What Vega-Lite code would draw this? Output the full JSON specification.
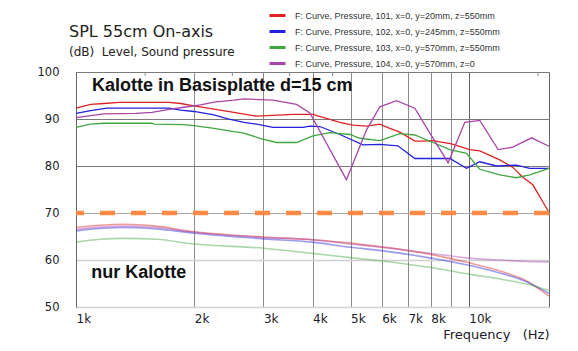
{
  "$schema": "https://vega.github.io/schema/vega-lite/v6.json",
  "width": 473,
  "height": 235,
  "autosize": {"type": "none"},
  "padding": {"left": 76, "top": 72, "right": 29, "bottom": 44},
  "background": "white",
  "config": {"view": {"stroke": null}, "font": "DejaVu Sans"},
  "title": {
    "text": "SPL 55cm On-axis",
    "subtitle": "(dB)\u00a0 Level, Sound pressure",
    "anchor": "start",
    "frame": "group",
    "dx": -7,
    "font": "DejaVu Sans",
    "fontSize": 16,
    "fontWeight": "normal",
    "color": "#222222",
    "subtitleFont": "DejaVu Sans",
    "subtitleFontSize": 12,
    "subtitleColor": "#222222",
    "subtitlePadding": 7,
    "offset": -52
  },
  "datasets": {
    "curves": [
      {"s": "101", "g": "b", "f": 1000, "db": 92.3},
      {"s": "101", "g": "b", "f": 1090, "db": 93.1},
      {"s": "101", "g": "b", "f": 1178, "db": 93.3},
      {"s": "101", "g": "b", "f": 1286, "db": 93.55},
      {"s": "101", "g": "b", "f": 1724, "db": 93.55},
      {"s": "101", "g": "b", "f": 1847, "db": 93.3},
      {"s": "101", "g": "b", "f": 1997, "db": 92.8},
      {"s": "101", "g": "b", "f": 2245, "db": 92.1},
      {"s": "101", "g": "b", "f": 2614, "db": 91.2},
      {"s": "101", "g": "b", "f": 2883, "db": 90.6},
      {"s": "101", "g": "b", "f": 3565, "db": 91.0},
      {"s": "101", "g": "b", "f": 4009, "db": 91.0},
      {"s": "101", "g": "b", "f": 4696, "db": 89.3},
      {"s": "101", "g": "b", "f": 5068, "db": 88.7},
      {"s": "101", "g": "b", "f": 5492, "db": 88.5},
      {"s": "101", "g": "b", "f": 5936, "db": 88.9},
      {"s": "101", "g": "b", "f": 6295, "db": 88.0},
      {"s": "101", "g": "b", "f": 6674, "db": 87.2},
      {"s": "101", "g": "b", "f": 7288, "db": 85.3},
      {"s": "101", "g": "b", "f": 7638, "db": 85.3},
      {"s": "101", "g": "b", "f": 8099, "db": 85.4},
      {"s": "101", "g": "b", "f": 9036, "db": 84.7},
      {"s": "101", "g": "b", "f": 10058, "db": 83.5},
      {"s": "101", "g": "b", "f": 10666, "db": 83.2},
      {"s": "101", "g": "b", "f": 11993, "db": 81.3},
      {"s": "101", "g": "b", "f": 12942, "db": 79.7},
      {"s": "101", "g": "b", "f": 13724, "db": 77.6},
      {"s": "101", "g": "b", "f": 14552, "db": 76.0},
      {"s": "101", "g": "b", "f": 15430, "db": 72.4},
      {"s": "101", "g": "b", "f": 16000, "db": 70.1},
      {"s": "102", "g": "b", "f": 1000, "db": 91.2},
      {"s": "102", "g": "b", "f": 1090, "db": 91.8},
      {"s": "102", "g": "b", "f": 1199, "db": 92.3},
      {"s": "102", "g": "b", "f": 1724, "db": 92.3},
      {"s": "102", "g": "b", "f": 1847, "db": 91.9},
      {"s": "102", "g": "b", "f": 1997, "db": 91.6},
      {"s": "102", "g": "b", "f": 2245, "db": 90.9},
      {"s": "102", "g": "b", "f": 2423, "db": 90.1},
      {"s": "102", "g": "b", "f": 2676, "db": 89.3},
      {"s": "102", "g": "b", "f": 2883, "db": 88.9},
      {"s": "102", "g": "b", "f": 3172, "db": 88.2},
      {"s": "102", "g": "b", "f": 3781, "db": 88.2},
      {"s": "102", "g": "b", "f": 3939, "db": 88.5},
      {"s": "102", "g": "b", "f": 4177, "db": 88.4},
      {"s": "102", "g": "b", "f": 4696, "db": 86.7},
      {"s": "102", "g": "b", "f": 5375, "db": 84.5},
      {"s": "102", "g": "b", "f": 5936, "db": 84.6},
      {"s": "102", "g": "b", "f": 6596, "db": 84.3},
      {"s": "102", "g": "b", "f": 7288, "db": 81.6},
      {"s": "102", "g": "b", "f": 8947, "db": 81.6},
      {"s": "102", "g": "b", "f": 9865, "db": 79.5},
      {"s": "102", "g": "b", "f": 10666, "db": 80.9},
      {"s": "102", "g": "b", "f": 11764, "db": 80.0},
      {"s": "102", "g": "b", "f": 13225, "db": 80.2},
      {"s": "102", "g": "b", "f": 14299, "db": 79.5},
      {"s": "102", "g": "b", "f": 16000, "db": 79.5},
      {"s": "103", "g": "b", "f": 1000, "db": 88.2},
      {"s": "103", "g": "b", "f": 1090, "db": 88.9},
      {"s": "103", "g": "b", "f": 1178, "db": 89.1},
      {"s": "103", "g": "b", "f": 1561, "db": 89.1},
      {"s": "103", "g": "b", "f": 1580, "db": 88.9},
      {"s": "103", "g": "b", "f": 1883, "db": 88.8},
      {"s": "103", "g": "b", "f": 1997, "db": 88.6},
      {"s": "103", "g": "b", "f": 2245, "db": 88.0},
      {"s": "103", "g": "b", "f": 2523, "db": 87.3},
      {"s": "103", "g": "b", "f": 2676, "db": 87.0},
      {"s": "103", "g": "b", "f": 2939, "db": 85.9},
      {"s": "103", "g": "b", "f": 3241, "db": 85.0},
      {"s": "103", "g": "b", "f": 3643, "db": 85.0},
      {"s": "103", "g": "b", "f": 4009, "db": 86.4},
      {"s": "103", "g": "b", "f": 4430, "db": 87.1},
      {"s": "103", "g": "b", "f": 4980, "db": 86.7},
      {"s": "103", "g": "b", "f": 5281, "db": 85.9},
      {"s": "103", "g": "b", "f": 5936, "db": 85.4},
      {"s": "103", "g": "b", "f": 6674, "db": 86.9},
      {"s": "103", "g": "b", "f": 7288, "db": 86.6},
      {"s": "103", "g": "b", "f": 8099, "db": 85.0},
      {"s": "103", "g": "b", "f": 8947, "db": 83.5},
      {"s": "103", "g": "b", "f": 9865, "db": 82.7},
      {"s": "103", "g": "b", "f": 10666, "db": 79.3},
      {"s": "103", "g": "b", "f": 11993, "db": 78.1},
      {"s": "103", "g": "b", "f": 13225, "db": 77.5},
      {"s": "103", "g": "b", "f": 14299, "db": 78.1},
      {"s": "103", "g": "b", "f": 16000, "db": 79.5},
      {"s": "104", "g": "b", "f": 1000, "db": 90.3},
      {"s": "104", "g": "b", "f": 1090, "db": 90.7},
      {"s": "104", "g": "b", "f": 1178, "db": 91.1},
      {"s": "104", "g": "b", "f": 1419, "db": 91.2},
      {"s": "104", "g": "b", "f": 1561, "db": 91.4},
      {"s": "104", "g": "b", "f": 1742, "db": 92.1},
      {"s": "104", "g": "b", "f": 1883, "db": 92.5},
      {"s": "104", "g": "b", "f": 2076, "db": 93.0},
      {"s": "104", "g": "b", "f": 2245, "db": 93.6},
      {"s": "104", "g": "b", "f": 2523, "db": 94.0},
      {"s": "104", "g": "b", "f": 2676, "db": 94.3},
      {"s": "104", "g": "b", "f": 3172, "db": 94.0},
      {"s": "104", "g": "b", "f": 3643, "db": 93.1},
      {"s": "104", "g": "b", "f": 3939, "db": 91.3},
      {"s": "104", "g": "b", "f": 4879, "db": 77.1},
      {"s": "104", "g": "b", "f": 5492, "db": 87.7},
      {"s": "104", "g": "b", "f": 5936, "db": 92.6},
      {"s": "104", "g": "b", "f": 6546, "db": 93.9},
      {"s": "104", "g": "b", "f": 7288, "db": 92.3},
      {"s": "104", "g": "b", "f": 7958, "db": 87.0},
      {"s": "104", "g": "b", "f": 8858, "db": 80.7},
      {"s": "104", "g": "b", "f": 9768, "db": 89.3},
      {"s": "104", "g": "b", "f": 10666, "db": 89.7},
      {"s": "104", "g": "b", "f": 11875, "db": 83.5},
      {"s": "104", "g": "b", "f": 12942, "db": 84.0},
      {"s": "104", "g": "b", "f": 14442, "db": 86.0},
      {"s": "104", "g": "b", "f": 16000, "db": 84.2},
      {"s": "101", "g": "k", "f": 1000, "db": 66.9},
      {"s": "101", "g": "k", "f": 1150, "db": 67.4},
      {"s": "101", "g": "k", "f": 1325, "db": 67.6},
      {"s": "101", "g": "k", "f": 1600, "db": 67.2},
      {"s": "101", "g": "k", "f": 2000, "db": 66.0},
      {"s": "101", "g": "k", "f": 3000, "db": 64.9},
      {"s": "101", "g": "k", "f": 4000, "db": 64.3},
      {"s": "101", "g": "k", "f": 5000, "db": 63.6},
      {"s": "101", "g": "k", "f": 6000, "db": 62.8},
      {"s": "101", "g": "k", "f": 8000, "db": 61.2},
      {"s": "101", "g": "k", "f": 10000, "db": 59.4},
      {"s": "101", "g": "k", "f": 12500, "db": 57.2},
      {"s": "101", "g": "k", "f": 14000, "db": 55.6},
      {"s": "101", "g": "k", "f": 16000, "db": 52.3},
      {"s": "102", "g": "k", "f": 1000, "db": 66.2},
      {"s": "102", "g": "k", "f": 1150, "db": 66.7},
      {"s": "102", "g": "k", "f": 1325, "db": 66.9},
      {"s": "102", "g": "k", "f": 1600, "db": 66.6},
      {"s": "102", "g": "k", "f": 2000, "db": 65.7},
      {"s": "102", "g": "k", "f": 3000, "db": 64.5},
      {"s": "102", "g": "k", "f": 4000, "db": 63.8},
      {"s": "102", "g": "k", "f": 5000, "db": 62.7},
      {"s": "102", "g": "k", "f": 6000, "db": 62.0},
      {"s": "102", "g": "k", "f": 8000, "db": 60.4},
      {"s": "102", "g": "k", "f": 10000, "db": 58.9},
      {"s": "102", "g": "k", "f": 12500, "db": 56.8},
      {"s": "102", "g": "k", "f": 14000, "db": 55.4},
      {"s": "102", "g": "k", "f": 16000, "db": 52.9},
      {"s": "103", "g": "k", "f": 1000, "db": 63.8},
      {"s": "103", "g": "k", "f": 1150, "db": 64.4},
      {"s": "103", "g": "k", "f": 1325, "db": 64.6},
      {"s": "103", "g": "k", "f": 1600, "db": 64.4},
      {"s": "103", "g": "k", "f": 2000, "db": 63.4},
      {"s": "103", "g": "k", "f": 3000, "db": 62.5},
      {"s": "103", "g": "k", "f": 4000, "db": 61.4},
      {"s": "103", "g": "k", "f": 5000, "db": 60.5},
      {"s": "103", "g": "k", "f": 6000, "db": 59.8},
      {"s": "103", "g": "k", "f": 8000, "db": 58.4},
      {"s": "103", "g": "k", "f": 10000, "db": 57.0},
      {"s": "103", "g": "k", "f": 12500, "db": 55.7},
      {"s": "103", "g": "k", "f": 14000, "db": 54.9},
      {"s": "103", "g": "k", "f": 16000, "db": 53.5},
      {"s": "104", "g": "k", "f": 1000, "db": 66.5},
      {"s": "104", "g": "k", "f": 1150, "db": 67.0},
      {"s": "104", "g": "k", "f": 1325, "db": 67.2},
      {"s": "104", "g": "k", "f": 1600, "db": 66.9},
      {"s": "104", "g": "k", "f": 2000, "db": 65.9},
      {"s": "104", "g": "k", "f": 3000, "db": 64.8},
      {"s": "104", "g": "k", "f": 4000, "db": 64.3},
      {"s": "104", "g": "k", "f": 5000, "db": 63.4},
      {"s": "104", "g": "k", "f": 6000, "db": 62.7},
      {"s": "104", "g": "k", "f": 8000, "db": 61.4},
      {"s": "104", "g": "k", "f": 10000, "db": 60.4},
      {"s": "104", "g": "k", "f": 12500, "db": 59.9},
      {"s": "104", "g": "k", "f": 14000, "db": 59.7},
      {"s": "104", "g": "k", "f": 16000, "db": 59.6}
    ],
    "notes": [
      {"f": 1098, "db": 95.95, "t": "Kalotte in Basisplatte d=15 cm"},
      {"f": 1094, "db": 56.1, "t": "nur Kalotte"}
    ],
    "limit": [{"db": 70}],
    "minor": [
      {"f": 1500, "top": 100, "bot": 99.15},
      {"f": 2500, "top": 100, "bot": 99.15},
      {"f": 3500, "top": 100, "bot": 99.15},
      {"f": 4500, "top": 100, "bot": 99.15},
      {"f": 15000, "top": 100, "bot": 99.15}
    ]
  },
  "layer": [
    {
      "data": {"name": "curves"},
      "transform": [{"filter": "datum.g === 'b'"}],
      "mark": {"type": "line", "interpolate": "linear", "strokeWidth": 1.3},
      "encoding": {
        "x": {
          "field": "f", "type": "quantitative",
          "scale": {"type": "log", "domain": [1000, 16000], "nice": false},
          "axis": {
            "orient": "bottom",
            "values": [1000, 2000, 3000, 4000, 5000, 6000, 7000, 8000, 9000, 10000, 16000],
            "labelExpr": "datum.value === 9000 || datum.value === 16000 ? '' : (datum.value / 1000) + 'k'",
            "labelAlign": "left",
            "labelBaseline": "top",
            "labelPadding": 6,
            "labelFont": "DejaVu Sans",
            "labelFontSize": 12,
            "labelColor": "#1a1a2a",
            "labelOverlap": false,
            "labelFlush": false,
            "ticks": false,
            "domain": false,
            "grid": true,
            "gridColor": {"condition": {"test": "datum.value === 10000 || datum.value === 16000", "value": "#666666"}, "value": "#8c8c8c"},
            "gridWidth": 1,
            "title": "Frequency\u00a0\u00a0\u00a0(Hz)",
            "titleFont": "DejaVu Sans",
            "titleFontSize": 13,
            "titleFontWeight": "normal",
            "titleColor": "#1a1a2a",
            "titleAnchor": "end",
            "titleAlign": "right",
            "titlePadding": 4
          }
        },
        "y": {
          "field": "db", "type": "quantitative",
          "scale": {"domain": [50, 100], "nice": false, "zero": false},
          "axis": {
            "values": [50, 55, 60, 65, 70, 75, 80, 85, 90, 95, 100],
            "ticks": false,
            "labelPadding": 17,
            "labelFont": "DejaVu Sans",
            "labelFontSize": 11.5,
            "labelColor": "#1a1a2a",
            "domain": true,
            "domainColor": "#666666",
            "grid": true,
            "gridColor": {"condition": [{"test": "datum.value >= 80 && datum.value % 10 === 0", "value": "#7a7a7a"}, {"test": "datum.value <= 60", "value": "#d0d0d0"}], "value": "#a8a8a8"},
            "gridWidth": {"condition": {"test": "datum.value <= 60", "value": 1.6}, "value": 1},
            "title": null
          }
        },
        "color": {
          "field": "s", "type": "nominal",
          "scale": {"domain": ["101", "102", "103", "104"], "range": ["#DD2222", "#2222DD", "#40A640", "#A845A8"]},
          "legend": {
            "orient": "none",
            "legendX": 192,
            "legendY": -66,
            "direction": "vertical",
            "title": null,
            "padding": 0,
            "symbolType": "stroke",
            "symbolSize": 256,
            "symbolStrokeWidth": 3,
            "symbolOpacity": 1,
            "rowPadding": 0,
            "labelOffset": 8,
            "labelFont": "Liberation Sans",
            "labelFontSize": 9,
            "labelColor": "#333333",
            "labelLimit": 400,
            "labelExpr": "datum.label === '101' ? 'F: Curve, Pressure, 101, x=0, y=20mm, z=550mm' : datum.label === '102' ? 'F: Curve, Pressure, 102, x=0, y=245mm, z=550mm' : datum.label === '103' ? 'F: Curve, Pressure, 103, x=0, y=570mm, z=550mm' : 'F: Curve, Pressure, 104, x=0, y=570mm, z=0'"
          }
        }
      }
    },
    {
      "data": {"name": "limit"},
      "mark": {"type": "rule", "color": "#FF8A45", "strokeWidth": 4.5, "strokeDash": [15, 16]},
      "encoding": {
        "y": {"field": "db", "type": "quantitative", "scale": {"domain": [50, 100], "nice": false, "zero": false}}
      }
    },
    {
      "data": {"name": "curves"},
      "transform": [{"filter": "datum.g === 'k'"}],
      "mark": {"type": "line", "interpolate": "monotone", "strokeWidth": 1.6, "strokeOpacity": 0.45},
      "encoding": {
        "x": {"field": "f", "type": "quantitative", "scale": {"type": "log", "domain": [1000, 16000], "nice": false}},
        "y": {"field": "db", "type": "quantitative", "scale": {"domain": [50, 100], "nice": false, "zero": false}},
        "color": {"field": "s", "type": "nominal", "scale": {"domain": ["101", "102", "103", "104"], "range": ["#DD2222", "#2222DD", "#40A640", "#A845A8"]}},
        "detail": {"field": "g"}
      }
    },
    {
      "data": {"name": "minor"},
      "mark": {"type": "rule", "color": "#888888", "strokeWidth": 1},
      "encoding": {
        "x": {"field": "f", "type": "quantitative", "scale": {"type": "log", "domain": [1000, 16000], "nice": false}},
        "y": {"field": "top", "type": "quantitative", "scale": {"domain": [50, 100], "nice": false, "zero": false}},
        "y2": {"field": "bot"}
      }
    },
    {
      "data": {"name": "notes"},
      "mark": {"type": "text", "font": "Liberation Sans", "fontWeight": "bold", "fontSize": 18, "align": "left", "baseline": "alphabetic", "color": "#111111"},
      "encoding": {
        "x": {"field": "f", "type": "quantitative", "scale": {"type": "log", "domain": [1000, 16000], "nice": false}},
        "y": {"field": "db", "type": "quantitative", "scale": {"domain": [50, 100], "nice": false, "zero": false}},
        "text": {"field": "t"}
      }
    }
  ]
}
